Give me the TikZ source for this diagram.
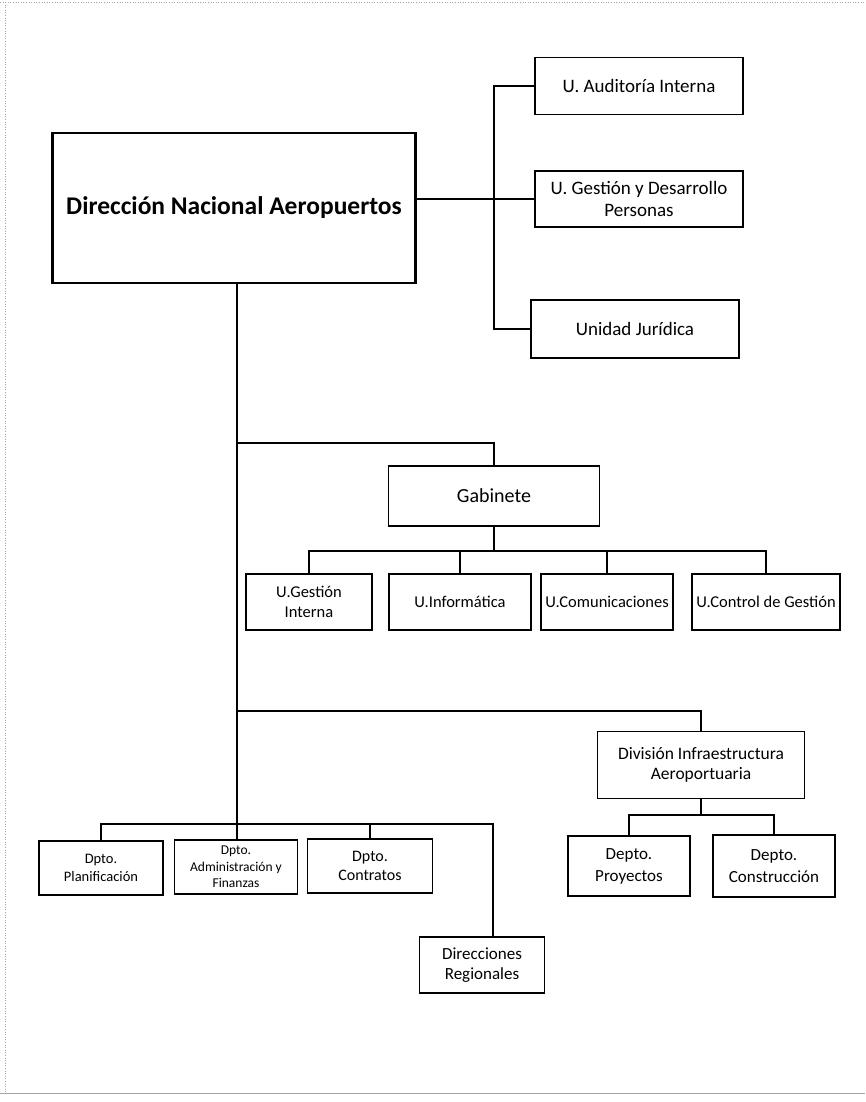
\documentclass[tikz,border=0pt]{standalone}
\usepackage{fontspec}
\setmainfont{Carlito}
\usepackage{xcolor}
\usepackage{tikz}
\usetikzlibrary{math}

\begin{document}
\begin{tikzpicture}[x=1pt,y=-1pt,
	unit/.style={draw,line width=1.5pt,inner sep=0pt,align=center,font=\fontsize{19}{22}\selectfont},
	link/.style={line width=2.8pt},
	frame/.style={gray!70,line width=0.6pt}]
\useasboundingbox (0,0) rectangle (865,1102);
\draw[frame,dotted] (0,2) -- (865,2);
\draw[frame,dotted] (5,2) -- (5,1093);
\draw[frame] (0,1093) -- (865,1093);
\tikzmath{
	\tx = 237;\rx = 494;
	\ga = 443;\gb = 551;
	\da = 711;\db = 815;\bb = 824;
	{\node[unit,line width=2.2pt,minimum width=363pt,minimum height=150pt,font=\bfseries\fontsize{25.5}{28}\selectfont] (dna) at (234,208) {Dirección Nacional Aeropuertos};};
	{\node[unit,minimum width=208pt,minimum height=57pt] (aud) at (639,86) {U. Auditoría Interna};};
	{\node[unit,minimum width=208pt,minimum height=56pt] (gdp) at (639,199) {U. Gestión y Desarrollo\\Personas};};
	{\node[unit,minimum width=208pt,minimum height=58pt] (jur) at (635,329) {Unidad Jurídica};};
	{\coordinate (rb) at (\rx,200);};
	{\draw[link] (dna.east |- gdp.west) -- (gdp.west);};
	{\draw[link] (aud.west) -| (rb) |- (jur.west);};
	%
	{\node[unit,minimum width=211pt,minimum height=60pt,font=\fontsize{20}{24}\selectfont] (gab) at (494,496) {Gabinete};};
	{\node[unit,minimum width=126pt,minimum height=56pt,font=\fontsize{16.5}{20}\selectfont] (ugi) at (309,602) {U.Gestión\\Interna};};
	{\node[unit,minimum width=142pt,minimum height=56pt,font=\fontsize{16.5}{20}\selectfont] (uinf) at (460,602) {U.Informática};};
	{\node[unit,minimum width=132pt,minimum height=56pt,font=\fontsize{16.5}{20}\selectfont] (ucom) at (607,602) {U.Comunicaciones};};
	{\node[unit,minimum width=148pt,minimum height=56pt,font=\fontsize{16.5}{20}\selectfont] (ucg) at (766,602) {U.Control de Gestión};};
	{\coordinate (g0) at (\tx,\ga);};
	{\coordinate (g1) at (494,\gb);};
	{\draw[link] (g0) -| (gab.north);};
	{\draw[link] (gab.south) -- (g1);};
	{\draw[link] (ugi.north) |- (g1) -| (ucg.north);};
	{\draw[link] (uinf.north) -- (uinf.north |- g1);};
	{\draw[link] (ucom.north) -- (ucom.north |- g1);};
	%
	{\node[unit,minimum width=207pt,minimum height=67pt,font=\fontsize{17.5}{20.5}\selectfont] (dia) at (701,765) {División Infraestructura\\Aeroportuaria};};
	{\node[unit,minimum width=122pt,minimum height=60pt,font=\fontsize{17}{22}\selectfont] (dpr) at (629,866) {Depto.\\Proyectos};};
	{\node[unit,minimum width=122pt,minimum height=62pt,font=\fontsize{17}{22}\selectfont] (dco) at (774,866) {Depto.\\Construcción};};
	{\coordinate (d0) at (\tx,\da);};
	{\coordinate (d1) at (701,\db);};
	{\draw[link] (d0) -| (dia.north);};
	{\draw[link] (dia.south) -- (d1);};
	{\draw[link] (dpr.north) |- (d1) -| (dco.north);};
	%
	{\node[unit,minimum width=124pt,minimum height=54pt,font=\fontsize{14.5}{18}\selectfont] (pla) at (101,868) {Dpto.\\Planificación};};
	{\node[unit,minimum width=123pt,minimum height=54pt,font=\fontsize{13.5}{16.5}\selectfont] (adm) at (236,867) {Dpto.\\Administración y\\Finanzas};};
	{\node[unit,minimum width=125pt,minimum height=54pt,font=\fontsize{16}{19}\selectfont] (ctr) at (370,866) {Dpto.\\Contratos};};
	{\node[unit,minimum width=125pt,minimum height=56pt,font=\fontsize{17}{20}\selectfont] (dir) at (482,965) {Direcciones\\Regionales};};
	{\coordinate (b0) at (\tx,\bb);};
	{\coordinate (b1) at (493,\bb);};
	{\draw[link] (dna.south -| b0) -- (b0 |- adm.north);};
	{\draw[link] (pla.north) |- (b0) -- (b1) -- (b1 |- dir.north);};
	{\draw[link] (ctr.north) -- (ctr.north |- b0);};
};
\end{tikzpicture}
\end{document}
